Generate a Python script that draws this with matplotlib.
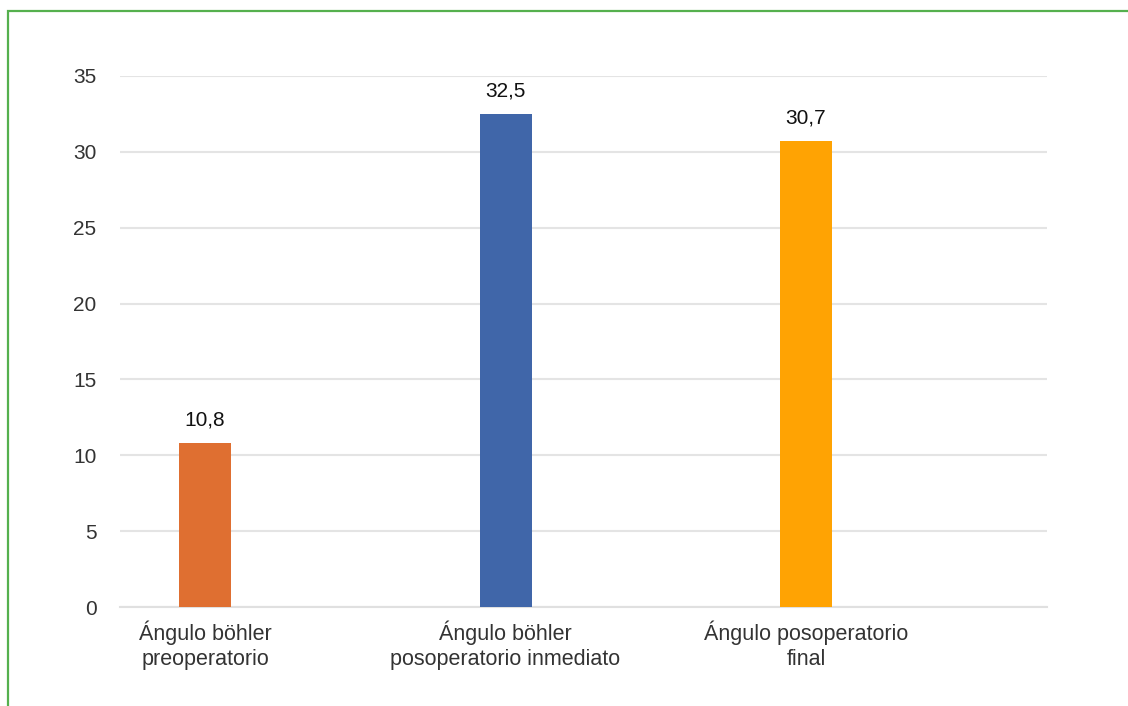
import matplotlib
matplotlib.use('Agg')
import matplotlib.pyplot as plt
from matplotlib.patches import Rectangle

# ── Data ──────────────────────────────────────────────────────────
categories = ['Ángulo böhler\npreoperatorio',
              'Ángulo böhler\nposoperatorio inmediato',
              'Ángulo posoperatorio\nfinal']
values = [10.8, 32.5, 30.7]
value_labels = ['10,8', '32,5', '30,7']
bar_colors = ['#DF6F31', '#4066A9', '#FFA303']
y_ticks = [0, 5, 10, 15, 20, 25, 30, 35]

plt.rcParams['font.family'] = ['Liberation Sans', 'DejaVu Sans']

fig = plt.figure(figsize=(11.28, 7.06), dpi=100)
ax = fig.add_axes([0.1064, 0.1402, 0.8218, 0.7522])

x = list(range(len(categories)))
bars = ax.bar(x, values, width=0.173, color=bar_colors, zorder=3)

for bar, lab in zip(bars, value_labels):
    ax.annotate(lab, (bar.get_x() + bar.get_width() / 2, bar.get_height()),
                xytext=(0, 10), textcoords='offset points',
                ha='center', va='bottom', fontsize=15, color='#111111')

ax.set_xlim(-0.283, 2.802)
ax.set_ylim(0, 35)
ax.set_yticks(y_ticks)
ax.set_xticks(x)
ax.set_xticklabels(categories, fontsize=15.5, color='#333333', linespacing=1.2)
ax.tick_params(axis='y', length=0, pad=17, labelsize=15, labelcolor='#333333')
ax.tick_params(axis='x', length=0, pad=10)

ax.grid(axis='y', color='#e4e4e4', linewidth=1.5, zorder=0)
for s in ['top', 'right', 'left']:
    ax.spines[s].set_visible(False)
ax.spines['bottom'].set_color('#e0e0e0')
ax.spines['bottom'].set_linewidth(1.5)

# green frame around the figure (right and bottom edges fall outside)
top = 1 - 11 / 706
fig.patches.append(Rectangle((8 / 1128, -0.05), 1.2, top + 0.05,
                             transform=fig.transFigure, fill=False,
                             edgecolor='#55B04E', linewidth=1.6))

fig.savefig('out.png', dpi=100)
plt.close()
